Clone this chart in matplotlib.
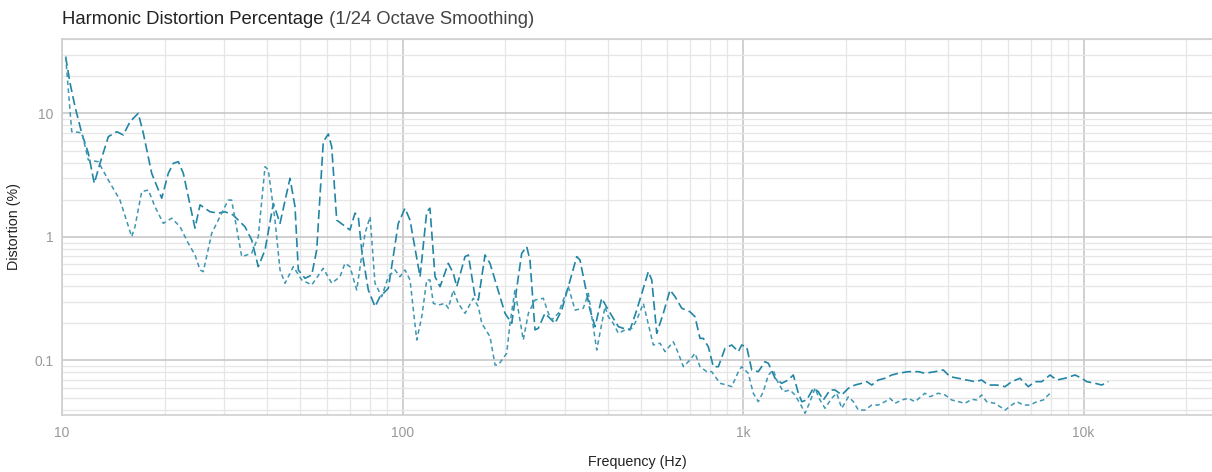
import numpy as np
import matplotlib
matplotlib.use("Agg")
import matplotlib.pyplot as plt
from matplotlib.ticker import FixedLocator, LogLocator, NullFormatter

plt.rcParams['font.family'] = ['Liberation Sans', 'DejaVu Sans']

# ---- data (Hz, %) ----
freq_a = [10.25, 10.56, 10.92, 11.43, 11.95, 12.44, 12.93, 13.68, 14.48, 15.14,
          15.84, 16.75, 17.33, 18.34, 19.63, 20.52, 21.23, 21.96, 22.71, 23.49,
          24.58, 25.43, 27.21, 28.77, 30.11, 31.79, 34.47, 36.06, 37.71, 39.47,
          41.75, 43.68, 46.73, 48.34, 49.43, 51.72, 54.12, 55.98, 58.53, 60.54,
          61.95, 64.09, 66.99, 70.10, 72.52, 74.16, 75.89, 79.36, 83.03, 85.89,
          90.86, 97.2, 101.7, 105.2, 112.6, 117.8, 120.4, 124.6, 128.9, 136.3,
          141.0, 144.3, 152.6, 156.1, 163.3, 167.0, 174.7, 180.7, 200.0, 209.3,
          223.9, 231.6, 236.8, 244.9, 250.4, 262.0, 280.5, 293.5, 306.9, 324.9,
          332.1, 355.4, 367.6, 384.6, 402.2, 430.4, 445.2, 465.8, 487.4, 527.2,
          539.5, 558.0, 583.4, 610.4, 631.4, 660.7, 698.7, 722.8, 747.7, 764.6,
          790.9, 818.2, 846.4, 885.5, 926.6, 969, 991, 1025, 1061, 1109,
          1160, 1187, 1242, 1299, 1358, 1405, 1454, 1488, 1538, 1609,
          1664, 1722, 1801, 1863, 1950, 2039, 2133, 2232, 2309, 2388,
          2497, 2612, 2734, 2858, 3059, 3272, 3423, 3664, 3874, 4055,
          4289, 4539, 4802, 5023, 5253, 5559, 5883, 6153, 6508, 6884,
          7204, 7538, 7974, 8343, 8826, 9441, 9879, 10220, 10810, 11310, 11830]
dist_a = [28.8, 17.6, 11.35, 6.92, 4.76, 2.72, 3.95, 6.49, 7.12, 6.70,
          8.58, 10.04, 6.92, 3.28, 2.06, 3.28, 3.95, 4.07, 3.28, 2.12,
          1.18, 1.82, 1.60, 1.56, 1.60, 1.51, 1.21, 0.946, 0.575, 0.785,
          1.87, 1.29, 2.99, 1.76, 0.541, 0.463, 0.492, 0.785, 5.91, 6.82,
          5.38, 1.37, 1.25, 1.14, 1.56, 1.46, 0.785, 0.372, 0.273, 0.329,
          0.384, 1.29, 1.71, 1.37, 0.477, 1.60, 1.71, 0.477, 0.396, 0.612,
          0.508, 0.396, 0.693, 0.715, 0.329, 0.309, 0.715, 0.612, 0.241, 0.200,
          0.738, 0.835, 0.651, 0.177, 0.182, 0.241, 0.200, 0.256, 0.396, 0.693,
          0.651, 0.256, 0.188, 0.319, 0.256, 0.188, 0.182, 0.177, 0.256, 0.524,
          0.449, 0.166, 0.241, 0.372, 0.329, 0.265, 0.248, 0.226, 0.151, 0.151,
          0.129, 0.0891, 0.0891, 0.1256, 0.1335, 0.118, 0.1335, 0.129, 0.0838, 0.0812,
          0.0978, 0.0949, 0.0718, 0.0654, 0.0695, 0.0763, 0.0543, 0.0464, 0.0479, 0.0596,
          0.0559, 0.0479, 0.0577, 0.0577, 0.0526, 0.0596, 0.0633, 0.0654, 0.0674, 0.0633,
          0.0695, 0.0718, 0.0763, 0.0788, 0.0812, 0.0812, 0.0788, 0.0812, 0.0838, 0.0740,
          0.0718, 0.0695, 0.0674, 0.0695, 0.0633, 0.0633, 0.0614, 0.0674, 0.0718, 0.0614,
          0.0674, 0.0674, 0.0763, 0.0695, 0.0718, 0.0763, 0.0718, 0.0674, 0.0654, 0.0633, 0.0674]

freq_b = [10.25, 10.68, 11.43, 11.95, 12.78, 13.68, 14.80, 16.02, 16.38, 17.14,
          17.93, 18.75, 19.84, 21.00, 22.22, 23.49, 24.58, 25.43, 26.0, 27.52,
          29.44, 30.78, 31.49, 33.72, 36.06, 37.71, 39.47, 40.36, 42.22, 43.68,
          45.17, 47.8, 50.58, 54.12, 58.53, 61.95, 65.52, 67.77, 70.10, 73.37,
          77.6, 80.3, 83.03, 86.9, 90.86, 95.06, 98.3, 101.7, 105.2, 110.1,
          113.9, 117.8, 120.4, 123.2, 127.4, 133.3, 136.3, 141.0, 145.8, 152.6,
          161.4, 167.0, 170.9, 180.7, 187.0, 191.1, 202.3, 206.9, 213.9, 226.3,
          234.2, 244.9, 259.1, 268.1, 274.3, 286.8, 306.9, 321.2, 339.6, 351.4,
          371.8, 393.3, 402.2, 415.9, 430.4, 450.3, 471.2, 487.4, 509.6, 545.3,
          570.5, 590.2, 624.2, 645.7, 667.9, 698.7, 722.8, 747.7, 782.3, 809.1,
          855.9, 895.6, 926.6, 969, 991, 1036, 1072, 1109, 1147, 1187,
          1227, 1256, 1313, 1374, 1421, 1488, 1521, 1573, 1627, 1683,
          1741, 1821, 1884, 1950, 2039, 2109, 2181, 2282, 2388, 2497,
          2612, 2702, 2795, 2924, 3059, 3200, 3423, 3541, 3746, 3919,
          4102, 4289, 4487, 4695, 4857, 5023, 5195, 5495, 5686, 5883,
          6153, 6366, 6657, 6966, 7289, 7620, 7974]
dist_b = [28.8, 7.12, 6.99, 4.20, 4.07, 2.89, 1.99, 1.006, 1.21, 2.33,
          2.40, 1.76, 1.29, 1.42, 1.21, 0.889, 0.715, 0.541, 0.524, 1.07,
          1.56, 1.99, 1.99, 0.693, 0.738, 1.006, 3.71, 3.49, 1.37, 0.541,
          0.422, 0.575, 0.449, 0.409, 0.558, 0.422, 0.477, 0.612, 0.575, 0.372,
          1.07, 1.46, 0.422, 0.329, 0.477, 0.541, 0.477, 0.541, 0.449, 0.1466,
          0.226, 0.449, 0.449, 0.290, 0.281, 0.290, 0.265, 0.372, 0.290, 0.241,
          0.319, 0.273, 0.200, 0.156, 0.092, 0.092, 0.1144, 0.200, 0.372, 0.1466,
          0.241, 0.309, 0.319, 0.241, 0.213, 0.241, 0.396, 0.256, 0.265, 0.350,
          0.1216, 0.273, 0.226, 0.200, 0.166, 0.177, 0.182, 0.213, 0.290, 0.1335,
          0.138, 0.118, 0.142, 0.1144, 0.0891, 0.101, 0.1144, 0.0891, 0.0812, 0.0812,
          0.0654, 0.0633, 0.0614, 0.0812, 0.0891, 0.0788, 0.0543, 0.0464, 0.0559, 0.0763,
          0.0838, 0.0695, 0.0559, 0.0577, 0.0526, 0.0423, 0.0374, 0.0464, 0.0596, 0.0479,
          0.0410, 0.0494, 0.0543, 0.0410, 0.0509, 0.0464, 0.0397, 0.0397, 0.0436, 0.0436,
          0.0464, 0.0494, 0.0450, 0.0479, 0.0494, 0.0464, 0.0543, 0.0509, 0.0543, 0.0526,
          0.0479, 0.0464, 0.0450, 0.0485, 0.0479, 0.0526, 0.0464, 0.0450, 0.0423, 0.0397,
          0.0436, 0.0464, 0.0436, 0.0436, 0.0464, 0.0479, 0.0543]

x_ticks = [10, 100, 1000, 10000]
x_labels = ["10", "100", "1k", "10k"]
y_ticks = [0.1, 1, 10]
y_labels = ["0.1", "1", "10"]

W, H = 1212, 472
fig = plt.figure(figsize=(W / 100, H / 100), dpi=100)
ax = fig.add_axes([62 / W, (H - 415) / H, (W - 62) / W, (415 - 39) / H])

ax.plot(freq_a, dist_a, color="#2185a6", lw=1.2, dashes=(5.5, 2.5))
ax.plot(freq_b, dist_b, color="#3d96b2", lw=1.1, dashes=(3, 2.2))

ax.set_xscale("log")
ax.set_yscale("log")
ax.set_xlim(10, 23840)
ax.set_ylim(0.0362, 40.1)

ax.xaxis.set_major_locator(FixedLocator(x_ticks))
ax.set_xticklabels(x_labels)
ax.yaxis.set_major_locator(FixedLocator(y_ticks))
ax.set_yticklabels(y_labels)
ax.xaxis.set_minor_locator(LogLocator(base=10, subs=np.arange(2, 10)))
ax.yaxis.set_minor_locator(LogLocator(base=10, subs=np.arange(2, 10)))
ax.xaxis.set_minor_formatter(NullFormatter())
ax.yaxis.set_minor_formatter(NullFormatter())

ax.grid(which="major", color="#c4c4c4", lw=1.1)
ax.grid(which="minor", color="#e6e6e6", lw=0.9)
ax.set_axisbelow(True)
ax.tick_params(which="both", length=0, labelsize=10, labelcolor="#9a9a9a")
ax.tick_params(axis="x", pad=8)
ax.tick_params(axis="y", pad=6)

for side in ["left", "top", "bottom"]:
    ax.spines[side].set_color("#cfcfcf")
    ax.spines[side].set_linewidth(1.2)
ax.spines["right"].set_visible(False)

ax.set_xlabel("Frequency (Hz)", fontsize=10.3, color="#222222", labelpad=11)
ax.set_ylabel("Distortion (%)", fontsize=10.3, color="#222222", labelpad=10)

t1 = fig.text(62 / W, 1 - 19 / H, "Harmonic Distortion Percentage",
              fontsize=13.3, color="#222222", va="center", ha="left")
fig.canvas.draw()
bb = t1.get_window_extent()
fig.text(bb.x1 / W, 1 - 19 / H, " (1/24 Octave Smoothing)",
         fontsize=13.3, color="#444444", va="center", ha="left")

fig.savefig("out.png", dpi=100)
